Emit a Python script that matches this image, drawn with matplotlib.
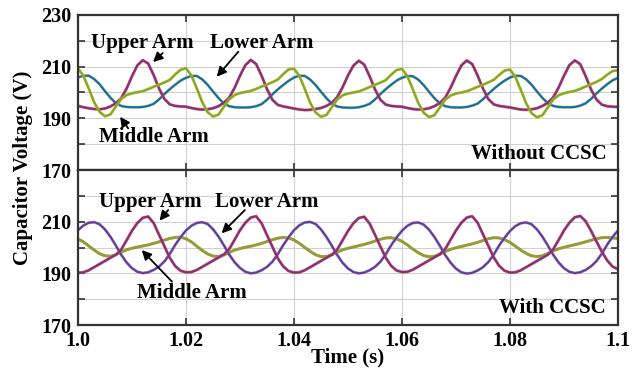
import matplotlib.pyplot as plt
import numpy as np

# sample grid: 1 ms steps from 1.0 s to 1.1 s
time_s = 1.0 + 0.001 * np.arange(101)

# top panel: without CCSC
top_upper = [194.8, 194.3, 193.9, 193.6, 193.5, 193.8, 194.6, 195.8, 197.8, 201.5, 206.3, 210.5, 212.5, 211.2, 206.8, 201.6, 197.5, 195.4, 194.8, 194.6,
             194.5, 194.0, 193.6, 193.4, 193.5, 193.9, 194.7, 196.0, 198.0, 201.8, 206.5, 210.6, 212.6, 211.0, 206.5, 201.3, 197.2, 195.2, 194.6, 194.2,
             193.8, 193.4, 193.2, 193.3, 193.6, 194.0, 194.8, 196.0, 198.2, 202.0, 206.6, 210.4, 212.3, 210.8, 206.3, 201.2, 197.2, 195.3, 194.8, 194.6,
             194.5, 194.0, 193.6, 193.4, 193.5, 193.9, 194.7, 195.9, 198.0, 201.8, 206.4, 210.5, 212.4, 211.0, 206.6, 201.5, 197.4, 195.4, 194.8, 194.5,
             194.2, 193.8, 193.4, 193.3, 193.5, 193.9, 194.8, 196.0, 198.1, 201.9, 206.5, 210.6, 212.4, 211.0, 206.4, 201.2, 197.3, 195.3, 194.7, 194.5,
             194.4]
top_middle = [209.3, 206.5, 201.5, 196.2, 192.5, 190.8, 191.5, 194.5, 197.5, 199.0, 199.7, 200.1, 200.5, 201.3, 202.2, 203.0, 203.9, 204.9, 207.0, 208.8,
              209.4, 206.6, 201.6, 196.3, 192.4, 190.7, 191.4, 194.4, 197.4, 199.0, 199.8, 200.2, 200.6, 201.4, 202.3, 203.1, 204.0, 205.0, 207.1, 208.9,
              209.2, 206.4, 201.4, 196.0, 192.3, 190.6, 191.3, 194.3, 197.3, 198.9, 199.6, 200.0, 200.4, 201.2, 202.1, 203.0, 203.8, 204.8, 206.9, 208.7,
              209.1, 206.3, 201.3, 196.0, 192.2, 190.5, 191.2, 194.2, 197.2, 198.8, 199.6, 200.0, 200.5, 201.3, 202.2, 203.0, 203.9, 204.9, 206.8, 208.5,
              208.9, 206.0, 201.0, 195.8, 192.0, 190.4, 191.2, 194.2, 197.3, 198.9, 199.7, 200.2, 200.6, 201.4, 202.3, 203.2, 204.1, 205.2, 206.9, 208.3,
              208.6]
top_lower = [205.8, 206.5, 206.5, 205.2, 203.2, 200.5, 198.0, 195.9, 194.8, 194.4, 194.3, 194.3, 194.4, 194.8, 195.6, 197.3, 199.4, 201.3, 203.0, 204.6,
             205.7, 206.4, 206.4, 205.1, 203.0, 200.4, 197.9, 195.8, 194.7, 194.3, 194.2, 194.2, 194.3, 194.7, 195.5, 197.2, 199.3, 201.2, 202.9, 204.5,
             205.8, 206.5, 206.4, 205.0, 202.9, 200.3, 197.8, 195.7, 194.6, 194.2, 194.1, 194.1, 194.3, 194.8, 195.6, 197.3, 199.4, 201.3, 203.0, 204.6,
             205.7, 206.4, 206.3, 205.0, 202.9, 200.3, 197.8, 195.8, 194.7, 194.3, 194.2, 194.2, 194.4, 194.9, 195.7, 197.4, 199.5, 201.4, 203.1, 204.6,
             205.8, 206.5, 206.4, 205.1, 203.0, 200.4, 197.9, 195.9, 194.8, 194.4, 194.3, 194.3, 194.4, 194.9, 195.8, 197.5, 199.6, 201.5, 203.2, 204.7,
             205.7]

# bottom panel: with CCSC
bot_upper = [190.2, 190.4, 191.2, 192.4, 193.6, 194.8, 196.0, 197.2, 199.2, 202.8, 206.5, 209.5, 211.5, 212.0, 209.5, 205.0, 200.5, 196.0, 192.8, 191.0,
             190.4, 190.5, 191.3, 192.5, 193.7, 194.9, 196.1, 197.3, 199.4, 203.0, 206.7, 209.6, 211.6, 212.1, 209.4, 204.8, 200.3, 195.8, 192.7, 190.9,
             190.3, 190.4, 191.2, 192.4, 193.6, 194.8, 196.0, 197.2, 199.2, 202.8, 206.4, 209.4, 211.4, 211.9, 209.3, 204.9, 200.4, 196.0, 192.9, 191.1,
             190.5, 190.6, 191.4, 192.6, 193.8, 195.0, 196.2, 197.4, 199.4, 203.0, 206.6, 209.6, 211.6, 212.1, 209.6, 205.1, 200.6, 196.1, 192.9, 191.0,
             190.3, 190.4, 191.2, 192.4, 193.6, 194.8, 196.0, 197.2, 199.3, 202.9, 206.6, 209.6, 211.7, 212.2, 210.2, 206.5, 202.4, 198.4, 195.0, 192.6,
             191.6]
bot_lower = [206.7, 208.5, 209.6, 209.8, 209.0, 207.0, 204.2, 200.8, 197.2, 194.2, 192.0, 190.6, 190.1, 190.4, 191.3, 192.6, 194.6, 197.5, 201.0, 204.0,
             206.6, 208.4, 209.5, 209.8, 209.1, 207.1, 204.3, 200.9, 197.3, 194.3, 192.1, 190.6, 190.0, 190.3, 191.2, 192.5, 194.5, 197.4, 200.9, 204.0,
             206.7, 208.6, 209.7, 209.9, 209.1, 207.0, 204.1, 200.7, 197.1, 194.1, 191.9, 190.5, 190.0, 190.3, 191.2, 192.5, 194.5, 197.4, 200.9, 203.9,
             206.5, 208.4, 209.5, 209.7, 208.9, 206.9, 204.1, 200.7, 197.1, 194.1, 191.8, 190.4, 189.9, 190.2, 191.1, 192.4, 194.4, 197.3, 200.8, 203.8,
             206.4, 208.3, 209.4, 209.7, 209.0, 207.0, 204.2, 200.8, 197.2, 194.2, 192.0, 190.6, 190.1, 190.4, 191.3, 192.7, 194.7, 197.6, 201.1, 204.1,
             206.6]
bot_middle = [203.3, 202.2, 200.6, 199.0, 197.6, 196.8, 196.6, 197.2, 198.2, 199.1, 199.7, 200.2, 200.6, 201.0, 201.6, 202.2, 202.9, 203.5, 203.9, 204.0,
              203.4, 202.2, 200.5, 198.9, 197.5, 196.7, 196.5, 197.1, 198.1, 199.0, 199.6, 200.1, 200.5, 201.0, 201.6, 202.3, 203.0, 203.6, 203.9, 203.7,
              202.9, 201.6, 200.0, 198.5, 197.2, 196.5, 196.5, 197.2, 198.2, 199.1, 199.7, 200.2, 200.7, 201.2, 201.8, 202.5, 203.2, 203.7, 203.8, 203.3,
              202.4, 201.0, 199.4, 198.0, 196.9, 196.4, 196.6, 197.4, 198.4, 199.3, 199.9, 200.4, 200.9, 201.4, 202.0, 202.7, 203.4, 203.8, 203.7, 203.0,
              202.0, 200.5, 199.0, 197.7, 196.8, 196.5, 196.8, 197.7, 198.7, 199.5, 200.1, 200.6, 201.1, 201.6, 202.2, 202.8, 203.4, 203.8, 203.9, 203.7,
              203.5]

yticks = [170, 180, 190, 200, 210, 220, 230]
top_ylabels = ['170', '', '190', '', '210', '', '230']
bot_ylabels = ['170', '', '190', '', '210', '', '']
xticks = [1.0, 1.02, 1.04, 1.06, 1.08, 1.1]
xlabels = ['1.0', '1.02', '1.04', '1.06', '1.08', '1.1']

purple = '#7E2F8E'
orange = '#D95319'
yellow = '#EDB120'
blue = '#0072BD'
green = '#77AC30'
cyan = '#4DBEEE'

plt.rcParams['font.family'] = ['Liberation Serif', 'DejaVu Serif']
plt.rcParams['font.weight'] = 'bold'

fig = plt.figure(figsize=(6.33, 3.72), dpi=100)
ax1 = fig.add_axes([0.1232, 0.543, 0.8531, 0.4167])
ax2 = fig.add_axes([0.1232, 0.1263, 0.8531, 0.4167])

def pair(ax, y, under, over):
    ax.plot(time_s, y, color=under, lw=2.2, alpha=0.75)
    ax.plot(time_s, y, color=over, lw=1.5)

pair(ax1, top_lower, yellow, blue)
pair(ax1, top_upper, orange, purple)
pair(ax1, top_middle, yellow, green)

pair(ax2, bot_middle, orange, green)
pair(ax2, bot_lower, cyan, purple)
pair(ax2, bot_upper, orange, purple)

for ax, ylab in [(ax1, top_ylabels), (ax2, bot_ylabels)]:
    ax.set_xlim(1.0, 1.1)
    ax.set_ylim(170, 230)
    ax.set_yticks(yticks)
    ax.set_yticklabels(ylab)
    ax.set_xticks(xticks)
    ax.grid(True, color='#d0d0d0', lw=0.8)
    ax.set_axisbelow(True)
    ax.tick_params(direction='in', length=5, width=1.2, color='#333333',
                   top=True, right=True, labelsize=14.5, pad=5)
    for s in ax.spines.values():
        s.set_color('#333333')
        s.set_linewidth(1.6)

ax1.set_xticklabels([])
ax2.set_xticklabels(xlabels)
ax2.tick_params(axis='x', pad=4)

afont = dict(fontsize=15, fontweight='bold', color='black')
arrow = dict(arrowstyle='-|>', color='black', lw=1.3, mutation_scale=14, shrinkA=0, shrinkB=0)

ax1.text(1.0119, 219.2, 'Upper Arm', ha='center', va='center', **afont)
ax1.annotate('', xy=(1.0139, 211.8), xytext=(1.0157, 215.3), arrowprops=arrow)
ax1.text(1.0340, 219.2, 'Lower Arm', ha='center', va='center', **afont)
ax1.annotate('', xy=(1.0257, 206.1), xytext=(1.0297, 215.8), arrowprops=arrow)
ax1.text(1.0141, 182.9, 'Middle Arm', ha='center', va='center', **afont)
ax1.annotate('', xy=(1.0078, 190.6), xytext=(1.0093, 186.1), arrowprops=arrow)
ax1.text(1.0979, 176.2, 'Without CCSC', ha='right', va='center', **afont)

ax2.text(1.0134, 217.7, 'Upper Arm', ha='center', va='center', **afont)
ax2.annotate('', xy=(1.0151, 210.4), xytext=(1.0167, 214.5), arrowprops=arrow)
ax2.text(1.0349, 217.7, 'Lower Arm', ha='center', va='center', **afont)
ax2.annotate('', xy=(1.0266, 205.5), xytext=(1.0309, 214.5), arrowprops=arrow)
ax2.text(1.0211, 182.3, 'Middle Arm', ha='center', va='center', **afont)
ax2.annotate('', xy=(1.0118, 199.0), xytext=(1.0174, 186.8), arrowprops=arrow)
ax2.text(1.0977, 176.5, 'With CCSC', ha='right', va='center', **afont)

fig.text(0.037, 0.5497, 'Capacitor Voltage (V)', rotation=90, ha='center', va='center',
         fontsize=15, fontweight='bold')
fig.text(0.5498, 0.040, 'Time (s)', ha='center', va='center', fontsize=15, fontweight='bold')

fig.savefig('out.png', dpi=100)
